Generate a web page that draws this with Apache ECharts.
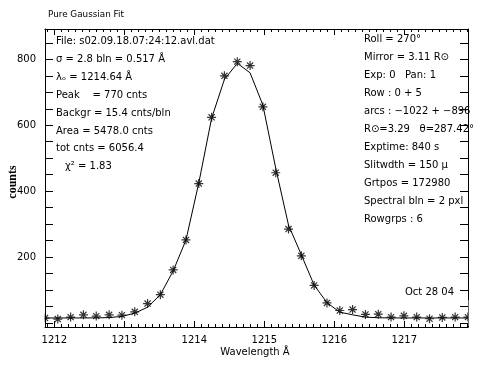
<!DOCTYPE html>
<html>
<head>
<meta charset="utf-8">
<script src="https://cdn.jsdelivr.net/npm/echarts@6/dist/echarts.min.js"></script>
<style>
html,body{margin:0;padding:0;background:#fff;}
#chart{width:491px;height:367px;}
</style>
</head>
<body>
<div id="chart"></div>
<script>
// Wavelength of each spectral bin (Å)
const wavelength = [1211.867, 1212.050, 1212.233, 1212.416, 1212.599, 1212.783, 1212.966, 1213.149,
  1213.332, 1213.515, 1213.698, 1213.881, 1214.064, 1214.247, 1214.430, 1214.614, 1214.797,
  1214.980, 1215.163, 1215.346, 1215.529, 1215.712, 1215.895, 1216.078, 1216.261, 1216.445,
  1216.628, 1216.811, 1216.994, 1217.177, 1217.360, 1217.543, 1217.726, 1217.909];
// Observed counts (asterisks)
const counts = [15, 12, 18, 25, 21, 25, 24, 34, 59, 86, 161, 252, 423, 624, 750, 793, 781, 656,
  456, 285, 204, 114, 61, 38, 41, 26, 27, 18, 22, 18, 13, 17, 18, 18];
// Gaussian fit (solid line)
const fitCounts = [15.4, 15.4, 15.4, 15.5, 15.7, 16.6, 20, 30, 48, 86, 158, 252, 425, 621, 739, 788,
  759, 661, 470, 297, 207, 115, 62, 33, 25, 18, 16, 15.5, 15.4, 15.4, 15.4, 15.4, 15.4, 15.4];
// Axis ranges / labels
const xRange = [1211.867, 1217.91];
const yRange = [-12, 892];
const xTickLabels = [1212, 1213, 1214, 1215, 1216, 1217];
const yTickLabels = [200, 400, 600, 800];
// Annotation text
const title = 'Pure Gaussian Fit';
const leftNotes = ['File: s02.09.18.07:24:12.avl.dat', 'σ = 2.8 bln = 0.517 Å', 'λₒ = 1214.64 Å',
  'Peak    = 770 cnts', 'Backgr = 15.4 cnts/bln', 'Area = 5478.0 cnts', 'tot cnts = 6056.4'];
const chiNote = 'χ² = 1.83';
const rightNotes = ['Roll = 270°', 'Mirror = 3.11 R⊙', 'Exp: 0   Pan: 1', 'Row : 0 + 5',
  'arcs : −1022 + −896', 'R⊙=3.29   θ=287.42°', 'Exptime: 840 s', 'Slitwdth = 150 μ',
  'Grtpos = 172980', 'Spectral bln = 2 pxl', 'Rowgrps : 6'];
const dateNote = 'Oct 28 04';
const xName = 'Wavelength Å';
const yName = 'counts';

const FONT = 'DejaVu Sans';
const chart = echarts.init(document.getElementById('chart'), null, {renderer: 'canvas'});

function xAxisCfg(pos, labels) {
  return {
    type: 'value', position: pos, min: xRange[0], max: xRange[1], splitNumber: 6,
    axisLine: {show: true, onZero: false, lineStyle: {color: '#000', width: 1}},
    axisTick: {show: true, inside: true, length: 6, lineStyle: {color: '#000'}},
    minorTick: {show: true, splitNumber: 10, length: 3, lineStyle: {color: '#000'}},
    splitLine: {show: false}, minorSplitLine: {show: false},
    axisLabel: {show: labels, color: '#000', fontFamily: FONT, fontSize: 10, margin: 8,
      formatter: v => xTickLabels.indexOf(Math.round(v * 1000) / 1000) >= 0 ? String(Math.round(v)) : ''}
  };
}
function yAxisCfg(pos, labels) {
  return {
    type: 'value', position: pos, min: yRange[0], max: yRange[1], splitNumber: 5,
    axisLine: {show: true, onZero: false, lineStyle: {color: '#000', width: 1}},
    axisTick: {show: true, inside: true, length: 8, lineStyle: {color: '#000'}},
    minorTick: {show: true, splitNumber: 4, length: 8, lineStyle: {color: '#000'}},
    splitLine: {show: false}, minorSplitLine: {show: false},
    axisLabel: {show: labels, color: '#000', fontFamily: FONT, fontSize: 10, margin: 9,
      formatter: v => yTickLabels.indexOf(v) >= 0 ? String(v) : ''}
  };
}

const graphics = [];
graphics.push({type: 'text', x: 48, y: 15, style: {text: title, font: '8.8px ' + FONT, fill: '#000', verticalAlign: 'middle'}});
leftNotes.forEach((t, i) => graphics.push({type: 'text', x: 56, y: 41.7 + i * 17.86,
  style: {text: t, font: '10px ' + FONT, fill: '#000', verticalAlign: 'middle'}}));
graphics.push({type: 'text', x: 65, y: 41.7 + 7 * 17.86, style: {text: chiNote, font: '10px ' + FONT, fill: '#000', verticalAlign: 'middle'}});
rightNotes.forEach((t, i) => graphics.push({type: 'text', x: 364, y: 39.5 + i * 17.97,
  style: {text: t, font: '10px ' + FONT, fill: '#000', verticalAlign: 'middle'}}));
graphics.push({type: 'text', x: 405, y: 292, style: {text: dateNote, font: '10px ' + FONT, fill: '#000', verticalAlign: 'middle'}});
graphics.push({type: 'text', x: 255, y: 352, style: {text: xName, font: '10px ' + FONT, fill: '#000', align: 'center', verticalAlign: 'middle'}});
graphics.push({type: 'text', x: 12.5, y: 182, rotation: Math.PI / 2,
  style: {text: yName, font: 'bold 12px "Liberation Serif"', fill: '#000', align: 'center', verticalAlign: 'middle'}});
// white masks just outside the frame so edge asterisks appear clipped by the axes
graphics.push({type: 'rect', z: 50, shape: {x: 36, y: 300, width: 8.5, height: 26}, style: {fill: '#fff'}});
graphics.push({type: 'rect', z: 50, shape: {x: 468.6, y: 300, width: 9, height: 26}, style: {fill: '#fff'}});

const star = 'path://M5,0L5,10M0,5L10,5M1.6,1.6L8.4,8.4M1.6,8.4L8.4,1.6';

chart.setOption({
  animation: false,
  backgroundColor: '#fff',
  grid: {left: 45, right: 23, top: 29, bottom: 40, containLabel: false},
  xAxis: [xAxisCfg('bottom', true), xAxisCfg('top', false)],
  yAxis: [yAxisCfg('left', true), yAxisCfg('right', false)],
  series: [
    {type: 'line', xAxisIndex: 0, yAxisIndex: 0, data: wavelength.map((x, i) => [x, fitCounts[i]]),
      showSymbol: false, symbol: 'none', clip: true, lineStyle: {color: '#000', width: 1}},
    {type: 'scatter', xAxisIndex: 0, yAxisIndex: 0, data: wavelength.map((x, i) => [x, counts[i]]),
      symbol: star, symbolSize: 9, clip: true,
      itemStyle: {color: 'rgba(0,0,0,0)', borderColor: '#000', borderWidth: 1.2}}
  ],
  graphic: graphics
});
</script>
</body>
</html>
